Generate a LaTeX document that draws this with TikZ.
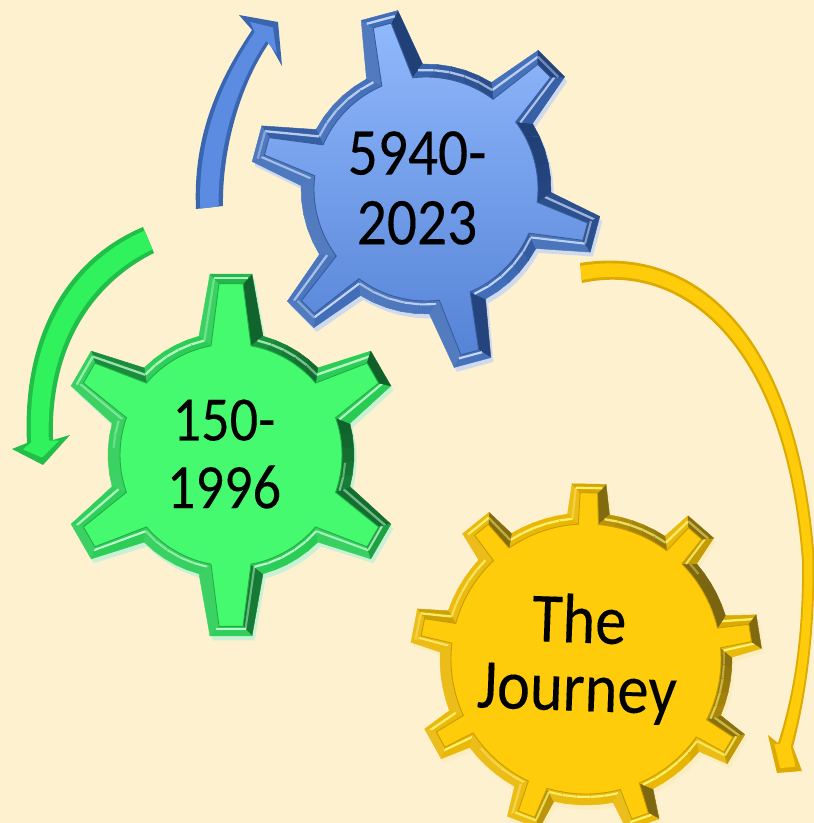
\documentclass[tikz,border=0pt]{standalone}
\usepackage{fontspec}
\newfontfamily\gf[FakeStretch=0.89,FakeBold=0.12]{Carlito}
\usetikzlibrary{calc}
\definecolor{paper}{HTML}{FEF1CF}
\definecolor{blueband}{HTML}{3F6CB8}
\definecolor{bluedark}{HTML}{1B3568}
\definecolor{bluehl}{HTML}{CFE0FA}
\definecolor{bluetop}{HTML}{90B8FC}
\definecolor{bluebot}{HTML}{5583D6}
\definecolor{blueface}{HTML}{5C8CE2}
\definecolor{blueedge}{HTML}{3A66B0}
\definecolor{greenband}{HTML}{26CC52}
\definecolor{greendark}{HTML}{0A4420}
\definecolor{greenhl}{HTML}{C8FFD4}
\definecolor{greenface}{HTML}{45FA6E}
\definecolor{greenarrow}{HTML}{30F25C}
\definecolor{greenedge}{HTML}{22BE4A}
\definecolor{yelband}{HTML}{EAB600}
\definecolor{yeldark}{HTML}{5E5014}
\definecolor{yelhl}{HTML}{FFF77A}
\definecolor{yelface}{HTML}{FFCC0C}
\definecolor{yeledge}{HTML}{DCAA00}
\colorlet{band}{blueband}
\colorlet{banddark}{bluedark}
\colorlet{hl}{bluehl}
\newcommand\facet[5]{%
  \pgfmathsetmacro\vv{cos(#5-25)}%
  \pgfmathsetmacro\hT{max(0,cos(#5-105))}%
  \pgfmathsetmacro\hL{max(0,cos(#5+70))}%
  \ifdim\vv pt>0.3pt
    \pgfmathsetmacro\pp{100-80*(\vv-0.3)/0.7}%
    \colorlet{fc}{band!\pp!banddark}%
  \else
    \pgfmathsetmacro\pp{100-8*(0.3-\vv)}%
    \colorlet{fc}{band!\pp!white}%
  \fi
  \filldraw[fc,line width=.25pt,line join=round] (#1)--(#2)--(#3)--(#4)--cycle;
  \ifdim\hT pt>0.35pt
    \draw[hl,line width=1.3pt,draw opacity=\hT*0.9] ($(#1)!.45!(#4)$)--($(#2)!.45!(#3)$);
  \fi
  \ifdim\hL pt>0.35pt
    \draw[hl,line width=1.2pt,draw opacity=\hL*0.95] ($(#1)!.72!(#4)$)--($(#2)!.72!(#3)$);
  \fi
}
% #1 cx, #2 cy, #3 R, #4 tip radius, #5 L, #6 w, #7 bevel, #8 teeth, #9 start angle
% style gearface is the face look; \tipx shortens the sideways teeth
\newcommand\gear[9]{%
\begin{scope}[shift={(#1,{823-#2})}]
  \pgfmathsetmacro\spn{360/#8}%
  \pgfmathtruncatemacro\nn{#8-1}%
  \pgfmathsetmacro\al{asin(#5/#3)}%
  \pgfmathsetmacro\Ri{#3-#7}%
  \pgfmathsetmacro\Li{#5-#7}%
  \pgfmathsetmacro\ali{asin(\Li/\Ri)}%
  \pgfmathsetmacro\rto{veclen(#4,#6)}%
  \pgfmathsetmacro\bto{atan(#6/#4)}%
  \pgfmathsetmacro\wi{#6-0.75*#7}%
  \pgfmathsetmacro\rti{#4-0.8*#7}%
  \pgfmathsetmacro\rtii{veclen(\rti,\wi)}%
  \pgfmathsetmacro\bti{atan(\wi/\rti)}%
  \pgfmathsetmacro\ub{#3*cos(\al)}%
  \pgfmathsetmacro\tauu{atan((#5-#6)/(#4-\ub))}%
  % soft lip at the lower right of the silhouette
  \fill[band!25!white,xshift=1.5,yshift=-2.5]
    ({#9-\al}:#3) \foreach \k in {0,...,\nn}{
      -- ({#9+\k*\spn-\bto}:{\rto*(1-\tipx*cos(#9+\k*\spn)*cos(#9+\k*\spn))})
      -- ({#9+\k*\spn+\bto}:{\rto*(1-\tipx*cos(#9+\k*\spn)*cos(#9+\k*\spn))})
      -- ({#9+\k*\spn+\al}:#3)
      arc[start angle={#9+\k*\spn+\al},end angle={#9+(\k+1)*\spn-\al},radius=#3]
    } -- cycle;
  \foreach \k in {0,...,\nn}{
    \pgfmathsetmacro\tha{#9+\k*\spn}%
    \pgfmathsetmacro\kk{1-\tipx*cos(\tha)*cos(\tha)}%
    \coordinate (A) at ({\tha-\al}:#3);
    \coordinate (B) at ({\tha-\bto}:{\rto*\kk});
    \coordinate (C) at ({\tha+\bto}:{\rto*\kk});
    \coordinate (D) at ({\tha+\al}:#3);
    \coordinate (Ai) at ({\tha-\ali}:\Ri);
    \coordinate (Bi) at ({\tha-\bti}:{\rtii*\kk});
    \coordinate (Ci) at ({\tha+\bti}:{\rtii*\kk});
    \coordinate (Di) at ({\tha+\ali}:\Ri);
    \facet{A}{B}{Bi}{Ai}{\tha-90+\tauu}
    \facet{D}{C}{Ci}{Di}{\tha+90-\tauu}
    \facet{B}{C}{Ci}{Bi}{\tha}
    \foreach \s in {0,...,4}{
      \pgfmathsetmacro\oa{\tha+\al+\s*(\spn-2*\al)/5}%
      \pgfmathsetmacro\ob{\tha+\al+(\s+1)*(\spn-2*\al)/5}%
      \pgfmathsetmacro\ia{\tha+\ali+\s*(\spn-2*\ali)/5}%
      \pgfmathsetmacro\ib{\tha+\ali+(\s+1)*(\spn-2*\ali)/5}%
      \coordinate (P) at (\oa:#3);
      \coordinate (Q) at (\ob:#3);
      \coordinate (Pi) at (\ia:\Ri);
      \coordinate (Qi) at (\ib:\Ri);
      \facet{P}{Q}{Qi}{Pi}{(\oa+\ob)/2}
    }
  }
  \path[gearface,draw=band!85!black,line width=.5pt]
    ({#9-\ali}:\Ri) \foreach \k in {0,...,\nn}{
      -- ({#9+\k*\spn-\bti}:{\rtii*(1-\tipx*cos(#9+\k*\spn)*cos(#9+\k*\spn))})
      -- ({#9+\k*\spn+\bti}:{\rtii*(1-\tipx*cos(#9+\k*\spn)*cos(#9+\k*\spn))})
      -- ({#9+\k*\spn+\ali}:\Ri)
      arc[start angle={#9+\k*\spn+\ali},end angle={#9+(\k+1)*\spn-\ali},radius=\Ri]
    } -- cycle;
\end{scope}}
\newcommand\MX[3]{($(#1)!#3!(#2)$)}
\tikzset{
  gearlabel/.style={text=black,align=center,inner sep=0pt},
  edgeB/.style={fill=blueedge},faceB/.style={fill=blueface},
  edgeG/.style={fill=greenedge},faceG/.style={fill=greenarrow},
  edgeY/.style={fill=yeledge},faceY/.style={fill=yelface}
}
\begin{document}
\begin{tikzpicture}[x=0.02cm,y=0.02cm]
\useasboundingbox (0,0) rectangle (814,823);
\fill[paper] (0,0) rectangle (814,823);

% ---------- gears ----------
\colorlet{band}{greenband}\colorlet{banddark}{greendark}\colorlet{hl}{greenhl}
\tikzset{gearface/.style={fill=greenface}}\def\tipx{0.059}
\gear{231}{455}{123}{181}{32}{21}{12}{6}{90}
\colorlet{band}{blueband}\colorlet{banddark}{bluedark}\colorlet{hl}{bluehl}
\tikzset{gearface/.style={top color=bluetop,bottom color=bluebot}}\def\tipx{0.03}
\gear{426}{189}{125}{180}{29}{19}{13}{6}{105}
\colorlet{band}{yelband}\colorlet{banddark}{yeldark}\colorlet{hl}{yelhl}
\tikzset{gearface/.style={fill=yelface}}\def\tipx{0}
\gear{586}{659}{146}{175}{21}{17}{11}{9}{89}

\begin{scope}[shift={(0,823)},y=-0.02cm]
% ---------- gear labels ----------
\node[gearlabel,font={\gf\fontsize{38pt}{39.7pt}\selectfont}] (tblue) at (417,188) {5940-\\2023};
\node[gearlabel,font={\gf\fontsize{36pt}{38.5pt}\selectfont}] (tgreen) at (224,454) {150-\\1996};
\node[gearlabel,rotate=-2,font={\gf\fontsize{40pt}{38.8pt}\selectfont}] (tyel) at (578,658) {The\\Journey};

% ---------- blue arrow ----------
\coordinate (o0) at (196,209); \coordinate (o1) at (193,140); \coordinate (o2) at (215,85); \coordinate (o3) at (252,30);
\coordinate (i0) at (223,206); \coordinate (i1) at (222,150); \coordinate (i2) at (240,85); \coordinate (i3) at (269,43);
\coordinate (bb1) at (239,15); \coordinate (bt) at (278,22); \coordinate (bb2) at (282,66); \coordinate (bc) at (268,33);
\fill[edgeB] (o0) .. controls (o1) and (o2) .. (o3) -- (bb1) -- (bt) -- (bb2) -- (i3) .. controls (i2) and (i1) .. (i0) -- cycle;
\fill[faceB] \MX{o0}{i0}{.16} .. controls \MX{o1}{i1}{.16} and \MX{o2}{i2}{.16} .. \MX{o3}{i3}{.16} -- \MX{bc}{bb1}{.62} -- \MX{bc}{bt}{.5} -- \MX{bc}{bb2}{.62} -- \MX{o3}{i3}{.84} .. controls \MX{o2}{i2}{.84} and \MX{o1}{i1}{.84} .. \MX{o0}{i0}{.84} -- cycle;

% ---------- green arrow ----------
\coordinate (p0) at (143,227); \coordinate (p1) at (60,262); \coordinate (p2) at (22,345); \coordinate (p3) at (27,443);
\coordinate (q0) at (154,253); \coordinate (q1) at (90,285); \coordinate (q2) at (50,350); \coordinate (q3) at (53,440);
\coordinate (gb1) at (12,449); \coordinate (gt) at (43,465); \coordinate (gb2) at (70,435); \coordinate (gc) at (41,450);
\fill[edgeG] (p0) .. controls (p1) and (p2) .. (p3) -- (gb1) -- (gt) -- (gb2) -- (q3) .. controls (q2) and (q1) .. (q0) -- cycle;
\fill[faceG] \MX{p0}{q0}{.14} .. controls \MX{p1}{q1}{.16} and \MX{p2}{q2}{.16} .. \MX{p3}{q3}{.16} -- \MX{gc}{gb1}{.62} -- \MX{gc}{gt}{.5} -- \MX{gc}{gb2}{.62} -- \MX{p3}{q3}{.84} .. controls \MX{p2}{q2}{.84} and \MX{p1}{q1}{.84} .. \MX{p0}{q0}{.86} -- cycle;

% ---------- yellow arrow ----------
\coordinate (r0) at (580,263); \coordinate (r1) at (690,245); \coordinate (r2) at (795,325); \coordinate (r3) at (814,550);
\coordinate (r4) at (816,620); \coordinate (r5) at (808,690); \coordinate (r6) at (793,747);
\coordinate (s0) at (582,283); \coordinate (s1) at (680,262); \coordinate (s2) at (785,340); \coordinate (s3) at (802,560);
\coordinate (s4) at (803,630); \coordinate (s5) at (795,690); \coordinate (s6) at (778,743);
\coordinate (yb1) at (768,735); \coordinate (yt) at (777,773); \coordinate (yb2) at (802,771); \coordinate (yc) at (785,760);
\fill[edgeY] (r0) .. controls (r1) and (r2) .. (r3) .. controls (r4) and (r5) .. (r6) -- (yb2) -- (yt) -- (yb1) -- (s6) .. controls (s5) and (s4) .. (s3) .. controls (s2) and (s1) .. (s0) -- cycle;
\fill[faceY] \MX{r0}{s0}{.15} .. controls \MX{r1}{s1}{.15} and \MX{r2}{s2}{.15} .. \MX{r3}{s3}{.15} .. controls \MX{r4}{s4}{.15} and \MX{r5}{s5}{.15} .. \MX{r6}{s6}{.15} -- \MX{yc}{yb2}{.62} -- \MX{yc}{yt}{.62} -- \MX{yc}{yb1}{.62} -- \MX{r6}{s6}{.85} .. controls \MX{r5}{s5}{.85} and \MX{r4}{s4}{.85} .. \MX{r3}{s3}{.85} .. controls \MX{r2}{s2}{.85} and \MX{r1}{s1}{.85} .. \MX{r0}{s0}{.85} -- cycle;
\end{scope}
\end{tikzpicture}
\end{document}
